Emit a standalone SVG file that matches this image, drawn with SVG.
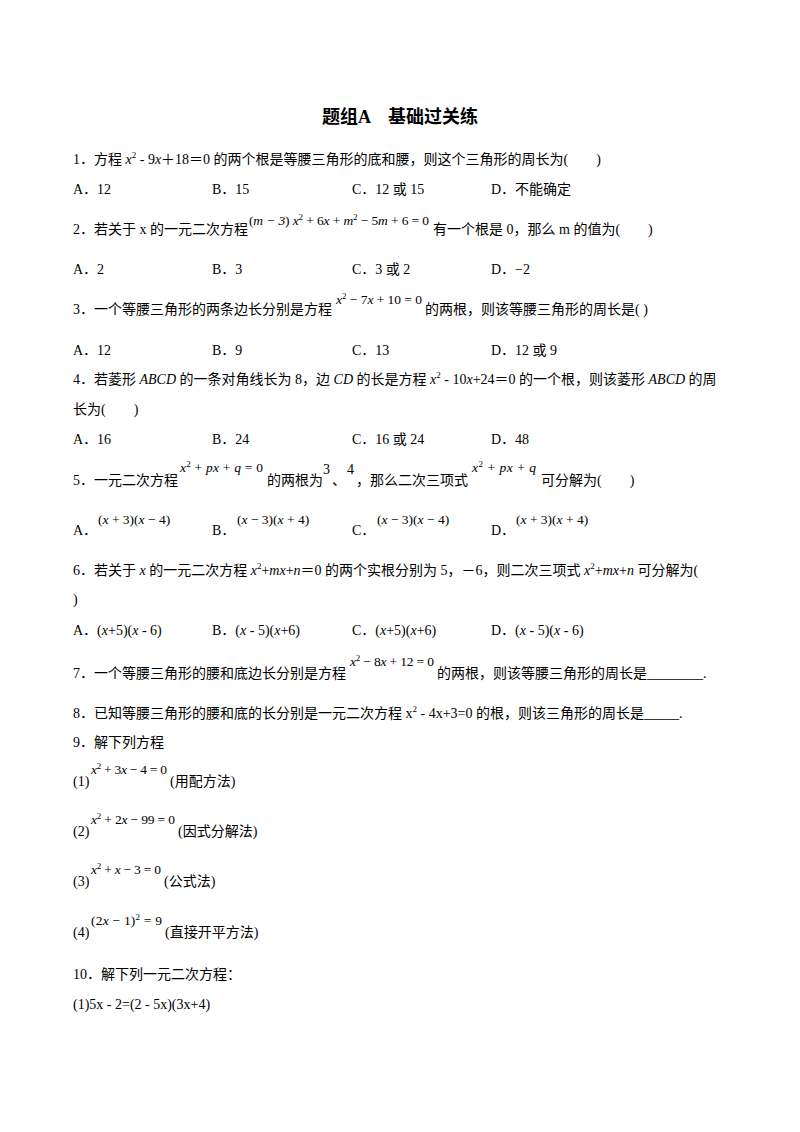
<svg xmlns="http://www.w3.org/2000/svg" width="800" height="1132" viewBox="0 0 800 1132">
<style>
text{font-family:"Liberation Serif","Noto Sans CJK SC",serif;font-size:14px;fill:#000}
.t{font-size:18px;font-weight:bold}
.m{font-size:13.5px;font-style:italic}
.n{font-style:normal}
.s{font-size:9px}
</style>
<rect width="800" height="1132" fill="#fff"/>
<text class="t" x="400" y="123" text-anchor="middle">题组A　基础过关练</text>
<text x="73" y="164">1．方程 <tspan font-style="italic">x</tspan><tspan class="s" dy="-6">2</tspan><tspan dy="6"> - 9</tspan><tspan font-style="italic">x</tspan>＋18＝0 的两个根是等腰三角形的底和腰，则这个三角形的周长为(　　)</text>
<text x="73" y="194">A．12</text><text x="212" y="194">B．15</text><text x="352" y="194">C．12 或 15</text><text x="491" y="194">D．不能确定</text>
<text x="73" y="234">2．若关于 x 的一元二次方程</text>
<text class="m" x="249" y="225" textLength="180"><tspan class="n">(</tspan>m − 3<tspan class="n">)</tspan> x<tspan class="s n" dy="-5">2</tspan><tspan dy="5" class="n"> + 6</tspan>x<tspan class="n"> + </tspan>m<tspan class="s n" dy="-5">2</tspan><tspan dy="5" class="n"> − 5</tspan>m<tspan class="n"> + 6 = 0</tspan></text>
<text x="433" y="234">有一个根是 0，那么 m 的值为(　　)</text>
<text x="73" y="274">A．2</text><text x="212" y="274">B．3</text><text x="352" y="274">C．3 或 2</text><text x="491" y="274">D．−2</text>
<text x="73" y="314">3．一个等腰三角形的两条边长分别是方程</text>
<text class="m" x="336" y="304" textLength="86">x<tspan class="s n" dy="-5">2</tspan><tspan dy="5" class="n"> − 7</tspan>x<tspan class="n"> + 10 = 0</tspan></text>
<text x="425" y="314">的两根，则该等腰三角形的周长是( )</text>
<text x="73" y="355">A．12</text><text x="212" y="355">B．9</text><text x="352" y="355">C．13</text><text x="491" y="355">D．12 或 9</text>
<text x="73" y="384">4．若菱形 <tspan font-style="italic">ABCD</tspan> 的一条对角线长为 8，边 <tspan font-style="italic">CD</tspan> 的长是方程 <tspan font-style="italic">x</tspan><tspan class="s" dy="-6">2</tspan><tspan dy="6"> - 10</tspan><tspan font-style="italic">x</tspan>+24＝0 的一个根，则该菱形 <tspan font-style="italic">ABCD</tspan> 的周</text>
<text x="73" y="414">长为(　　)</text>
<text x="73" y="444">A．16</text><text x="212" y="444">B．24</text><text x="352" y="444">C．16 或 24</text><text x="491" y="444">D．48</text>
<text x="73" y="485">5．一元二次方程</text>
<text class="m" x="180" y="472" textLength="83">x<tspan class="s n" dy="-5">2</tspan><tspan dy="5" class="n"> + </tspan>px<tspan class="n"> + </tspan>q<tspan class="n"> = 0</tspan></text>
<text x="267" y="485">的两根为</text><text x="323" y="474">3</text><text x="332" y="485">、</text><text x="347" y="474">4</text>
<text x="356" y="485">，那么二次三项式</text>
<text class="m" x="472" y="472" textLength="64">x<tspan class="s n" dy="-5">2</tspan><tspan dy="5" class="n"> + </tspan>px<tspan class="n"> + </tspan>q</text>
<text x="541" y="485">可分解为(　　)</text>
<text x="73" y="535">A．</text><text class="m" x="98" y="524"><tspan class="n">(</tspan>x<tspan class="n"> + 3)(</tspan>x<tspan class="n"> − 4)</tspan></text>
<text x="212" y="535">B．</text><text class="m" x="237" y="524"><tspan class="n">(</tspan>x<tspan class="n"> − 3)(</tspan>x<tspan class="n"> + 4)</tspan></text>
<text x="352" y="535">C．</text><text class="m" x="377" y="524"><tspan class="n">(</tspan>x<tspan class="n"> − 3)(</tspan>x<tspan class="n"> − 4)</tspan></text>
<text x="491" y="535">D．</text><text class="m" x="516" y="524"><tspan class="n">(</tspan>x<tspan class="n"> + 3)(</tspan>x<tspan class="n"> + 4)</tspan></text>
<text x="73" y="575">6．若关于 <tspan font-style="italic">x</tspan> 的一元二次方程 <tspan font-style="italic">x</tspan><tspan class="s" dy="-6">2</tspan><tspan dy="6">+</tspan><tspan font-style="italic">mx</tspan>+<tspan font-style="italic">n</tspan>＝0 的两个实根分别为 5，－6，则二次三项式 <tspan font-style="italic">x</tspan><tspan class="s" dy="-6">2</tspan><tspan dy="6">+</tspan><tspan font-style="italic">mx</tspan>+<tspan font-style="italic">n</tspan> 可分解为(</text>
<text x="73" y="604">)</text>
<text x="73" y="635">A．(<tspan font-style="italic">x</tspan>+5)(<tspan font-style="italic">x</tspan> - 6)</text><text x="212" y="635">B．(<tspan font-style="italic">x</tspan> - 5)(<tspan font-style="italic">x</tspan>+6)</text><text x="352" y="635">C．(<tspan font-style="italic">x</tspan>+5)(<tspan font-style="italic">x</tspan>+6)</text><text x="491" y="635">D．(<tspan font-style="italic">x</tspan> - 5)(<tspan font-style="italic">x</tspan> - 6)</text>
<text x="73" y="678">7．一个等腰三角形的腰和底边长分别是方程</text>
<text class="m" x="350" y="666" textLength="84">x<tspan class="s n" dy="-5">2</tspan><tspan dy="5" class="n"> − 8</tspan>x<tspan class="n"> + 12 = 0</tspan></text>
<text x="437" y="678">的两根，则该等腰三角形的周长是________.</text>
<text x="73" y="718">8．已知等腰三角形的腰和底的长分别是一元二次方程 x<tspan class="s" dy="-6">2</tspan><tspan dy="6"> - 4x+3=0 的根，则该三角形的周长是_____.</tspan></text>
<text x="73" y="747">9．解下列方程</text>
<text x="73" y="786">(1)</text><text class="m" x="91" y="774" textLength="76">x<tspan class="s n" dy="-5">2</tspan><tspan dy="5" class="n"> + 3</tspan>x<tspan class="n"> − 4 = 0</tspan></text><text x="170" y="786">(用配方法)</text>
<text x="73" y="836">(2)</text><text class="m" x="91" y="824" textLength="84">x<tspan class="s n" dy="-5">2</tspan><tspan dy="5" class="n"> + 2</tspan>x<tspan class="n"> − 99 = 0</tspan></text><text x="178" y="836">(因式分解法)</text>
<text x="73" y="886">(3)</text><text class="m" x="91" y="874" textLength="70">x<tspan class="s n" dy="-5">2</tspan><tspan dy="5" class="n"> + </tspan>x<tspan class="n"> − 3 = 0</tspan></text><text x="164" y="886">(公式法)</text>
<text x="73" y="937">(4)</text><text class="m" x="91" y="925" textLength="71"><tspan class="n">(2</tspan>x<tspan class="n"> − 1)</tspan><tspan class="s n" dy="-5">2</tspan><tspan dy="5" class="n"> = 9</tspan></text><text x="165" y="937">(直接开平方法)</text>
<text x="73" y="979">10．解下列一元二次方程：</text>
<text x="73" y="1009">(1)5x - 2=(2 - 5x)(3x+4)</text>
</svg>
